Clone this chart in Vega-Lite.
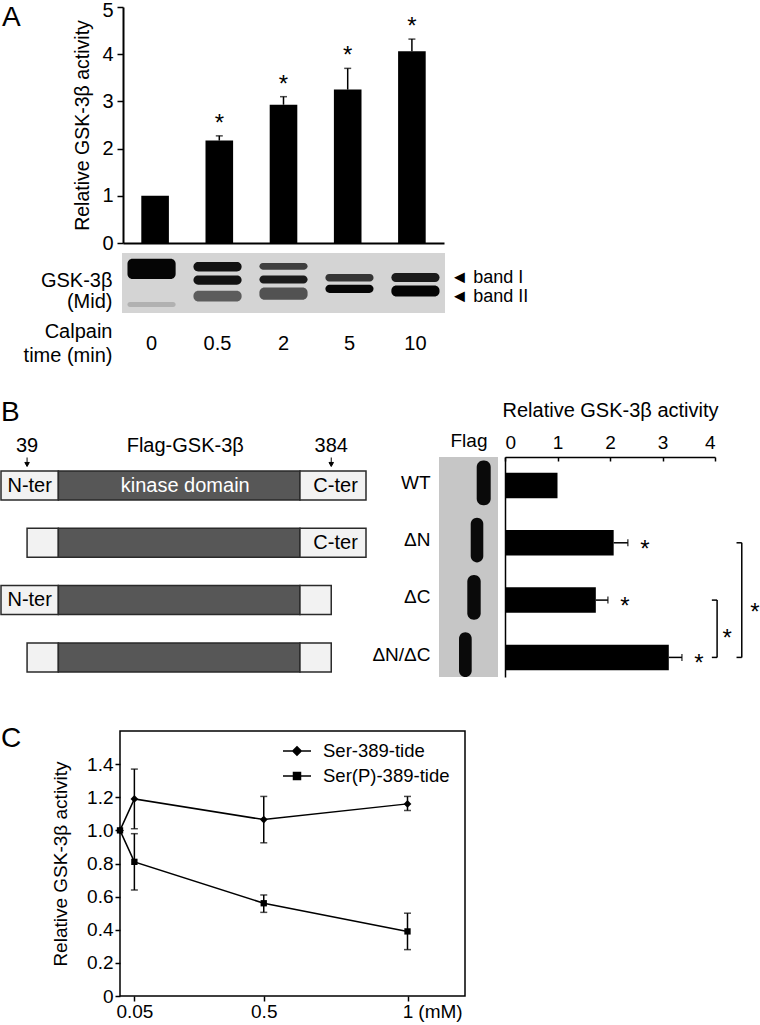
{
 "$schema": "https://vega.github.io/schema/vega-lite/v6.json",
 "background": "white",
 "padding": {"left": 0, "top": 0, "right": 0, "bottom": 0},
 "autosize": {"type": "pad"},
 "spacing": 0,
 "resolve": {"legend": {"shape": "independent"}},
 "config": {
  "font": "Liberation Sans",
  "view": {"stroke": null},
  "text": {"color": "black"},
  "axis": {"labelColor": "black", "titleColor": "black", "domainColor": "black", "tickColor": "black", "grid": false, "labelFontSize": 19, "titleFontSize": 20, "titleFontWeight": "normal", "domainWidth": 1.5, "tickWidth": 1.5, "labelOverlap": false},
  "axisY": {"labelOverlap": false},
  "axisQuantitative": {"labelOverlap": false},
  "title": {"color": "black", "fontWeight": "normal", "fontSize": 28}
 },
 "vconcat": [
  {
   "bounds": "flush", "spacing": 0,
   "hconcat": [
    {"width": 122, "height": 236, "data": {"values": []}, "mark": "point",
     "title": {"text": "A", "anchor": "start", "frame": "group", "baseline": "alphabetic", "offset": 0, "dy": 47, "dx": 1}},
    {"width": 321, "height": 236,
     "data": {"values": [
      {"t": "0", "v": 1.0, "hi": null},
      {"t": "0.5", "v": 2.17, "hi": 2.27},
      {"t": "2", "v": 2.93, "hi": 3.1},
      {"t": "5", "v": 3.25, "hi": 3.7},
      {"t": "10", "v": 4.06, "hi": 4.32}
     ]},
     "encoding": {"x": {"field": "t", "type": "nominal", "sort": null, "scale": {"paddingInner": 0.57, "paddingOuter": 0.285}, "axis": {"labels": false, "ticks": false, "title": null, "domainWidth": 2}}},
     "layer": [
      {"mark": {"type": "bar", "color": "black"},
       "encoding": {"y": {"field": "v", "type": "quantitative", "scale": {"domain": [0, 5], "nice": false},
                          "axis": {"values": [0, 1, 2, 3, 4, 5], "title": "Relative GSK-3β activity", "tickSize": 6, "labelPadding": 4, "titlePadding": 9, "domainWidth": 2, "labelFontSize": 20, "titleFontSize": 19.5,
                                   "labelOffset": {"condition": {"test": "datum.value == 5", "value": 3}, "value": 0}}}}},
      {"transform": [{"filter": "datum.hi != null"}], "mark": {"type": "rule", "color": "black", "strokeWidth": 1.5},
       "encoding": {"y": {"field": "v", "type": "quantitative"}, "y2": {"field": "hi"}}},
      {"transform": [{"filter": "datum.hi != null"}], "mark": {"type": "tick", "color": "black", "size": 7, "thickness": 1.5},
       "encoding": {"y": {"field": "hi", "type": "quantitative"}}},
      {"transform": [{"filter": "datum.hi != null"}], "mark": {"type": "text", "text": "*", "fontSize": 24, "baseline": "alphabetic", "dy": -5},
       "encoding": {"y": {"field": "hi", "type": "quantitative"}}}
     ]}
   ]
  },
  {
   "bounds": "flush", "spacing": 0,
   "hconcat": [
    {"width": 121, "height": 60, "data": {"values": []}, "mark": "point"},
    {"width": 323, "height": 60,
     "view": {"fill": "#d4d4d4", "stroke": null},
     "data": {"values": [
      {"lane": "0", "top": 5.7, "bot": 26, "k": 1.0},
      {"lane": "0", "top": 49, "bot": 54, "k": 0.15},
      {"lane": "0.5", "top": 9, "bot": 18.4, "k": 0.95},
      {"lane": "0.5", "top": 22.4, "bot": 31.7, "k": 0.95},
      {"lane": "0.5", "top": 37.7, "bot": 48.4, "k": 0.55},
      {"lane": "2", "top": 10, "bot": 16.7, "k": 0.7},
      {"lane": "2", "top": 22.4, "bot": 30.4, "k": 0.9},
      {"lane": "2", "top": 34.4, "bot": 46.7, "k": 0.6},
      {"lane": "5", "top": 21, "bot": 28.4, "k": 0.75},
      {"lane": "5", "top": 31.7, "bot": 40, "k": 1.0},
      {"lane": "10", "top": 20, "bot": 29, "k": 0.9},
      {"lane": "10", "top": 32.4, "bot": 43.4, "k": 1.0}
     ]},
     "mark": {"type": "rect", "cornerRadius": 5},
     "encoding": {
      "x": {"field": "lane", "type": "nominal", "sort": ["0", "0.5", "2", "5", "10"], "scale": {"paddingInner": 0.27, "paddingOuter": 0.083},
            "axis": {"orient": "bottom", "labelAngle": 0, "ticks": false, "domain": false, "labelPadding": 20, "labelFontSize": 20,
                     "title": ["Calpain", "time (min)"], "titleAngle": 0, "titleAlign": "right", "titleX": -10, "titleY": 24.5, "titleBaseline": "alphabetic", "titleLineHeight": 23.5, "titleFontSize": 20}},
      "y": {"field": "top", "type": "quantitative", "scale": {"domain": [0, 60], "reverse": true, "nice": false},
            "axis": {"orient": "right", "values": [24.8, 43], "labelExpr": "datum.value < 30 ? '◄ band I' : '◄ band II'", "ticks": false, "domain": false, "labelPadding": 5, "labelFontSize": 18, "labelBaseline": "middle",
                     "title": ["GSK-3β", "(Mid)"], "titleAngle": 0, "titleAlign": "right", "titleBaseline": "alphabetic", "titleX": -333, "titleY": 33, "titleLineHeight": 21, "titleFontSize": 20}},
      "y2": {"field": "bot"},
      "color": {"field": "k", "type": "quantitative", "scale": {"domain": [0, 1], "range": ["#d4d4d4", "#050505"]}, "legend": null}
     }}
   ]
  },
  {"width": 1, "height": 34, "data": {"values": []}, "mark": "point"},
  {
   "bounds": "flush", "spacing": 0,
   "hconcat": [
    {"width": 365, "height": 220,
     "title": {"text": "B", "anchor": "start", "frame": "group", "baseline": "alphabetic", "offset": 0, "dy": 13},
     "layer": [
      {"data": {"values": [
        {"c": "WT", "s": 0, "e": 66, "part": "end"},
        {"c": "WT", "s": 66, "e": 344, "part": "kinase"},
        {"c": "WT", "s": 344, "e": 420, "part": "end"},
        {"c": "ΔN", "s": 30, "e": 66, "part": "end"},
        {"c": "ΔN", "s": 66, "e": 344, "part": "kinase"},
        {"c": "ΔN", "s": 344, "e": 420, "part": "end"},
        {"c": "ΔC", "s": 0, "e": 66, "part": "end"},
        {"c": "ΔC", "s": 66, "e": 344, "part": "kinase"},
        {"c": "ΔC", "s": 344, "e": 380, "part": "end"},
        {"c": "ΔN/ΔC", "s": 30, "e": 66, "part": "end"},
        {"c": "ΔN/ΔC", "s": 66, "e": 344, "part": "kinase"},
        {"c": "ΔN/ΔC", "s": 344, "e": 380, "part": "end"}
       ]},
       "mark": {"type": "rect", "stroke": "#2a2a2a", "strokeWidth": 1.5},
       "encoding": {
        "x": {"field": "s", "type": "quantitative", "scale": {"domain": [0, 420], "nice": false}, "axis": null},
        "x2": {"field": "e"},
        "y": {"field": "c", "type": "nominal", "sort": null, "scale": {"domain": ["WT", "ΔN", "ΔC", "ΔN/ΔC"], "paddingInner": 0.494, "paddingOuter": 0.1667, "align": 0.733}, "axis": null},
        "fill": {"field": "part", "type": "nominal", "scale": {"domain": ["end", "kinase"], "range": ["#f2f2f2", "#575757"]}, "legend": null}
       }},
      {"data": {"values": [
        {"c": "WT", "pos": 33, "label": "N-ter"},
        {"c": "WT", "pos": 385, "label": "C-ter"},
        {"c": "ΔN", "pos": 385, "label": "C-ter"},
        {"c": "ΔC", "pos": 33, "label": "N-ter"}
       ]},
       "mark": {"type": "text", "fontSize": 20, "color": "black"},
       "encoding": {"x": {"field": "pos", "type": "quantitative", "axis": null}, "y": {"field": "c", "type": "nominal", "axis": null}, "text": {"field": "label"}}},
      {"data": {"values": [{"c": "WT", "pos": 212, "label": "kinase domain"}]},
       "mark": {"type": "text", "fontSize": 20, "color": "white"},
       "encoding": {"x": {"field": "pos", "type": "quantitative", "axis": null}, "y": {"field": "c", "type": "nominal", "axis": null}, "text": {"field": "label"}}},
      {"data": {"values": [{"pos": 30, "label": "39"}, {"pos": 212, "label": "Flag-GSK-3β"}, {"pos": 380, "label": "384"}]},
       "mark": {"type": "text", "fontSize": 20, "baseline": "alphabetic", "dy": -33.5},
       "encoding": {"x": {"field": "pos", "type": "quantitative", "axis": null}, "y": {"datum": "WT", "type": "nominal", "axis": null}, "text": {"field": "label"}}},
      {"data": {"values": [{"pos": 30}, {"pos": 380}]},
       "mark": {"type": "point", "shape": "M0,-1L0,0.25M-0.5,0.1L0.5,0.1L0,1Z", "size": 81, "fill": "black", "stroke": "black", "strokeWidth": 1, "opacity": 1, "yOffset": -23.5},
       "encoding": {"x": {"field": "pos", "type": "quantitative", "axis": null}, "y": {"datum": "WT", "type": "nominal", "axis": null}}}
     ]},
    {"width": 73, "height": 220, "data": {"values": []}, "mark": "point"},
    {"width": 59, "height": 220,
     "view": {"fill": "#c6c6c6", "stroke": null},
     "data": {"values": [
      {"c": "WT", "m1": 37.7, "m2": 51.7},
      {"c": "ΔN", "m1": 31.7, "m2": 44.3},
      {"c": "ΔC", "m1": 28.3, "m2": 41.7},
      {"c": "ΔN/ΔC", "m1": 20, "m2": 32.7}
     ]},
     "mark": {"type": "rect", "color": "#0a0a0a", "cornerRadius": 6.5},
     "encoding": {
      "y": {"field": "c", "type": "nominal", "sort": null, "scale": {"domain": ["WT", "ΔN", "ΔC", "ΔN/ΔC"], "paddingInner": 0.22, "paddingOuter": 0.03, "align": 1},
            "axis": {"ticks": false, "domain": false, "labelPadding": 9, "labelFontSize": 19, "title": null}},
      "x": {"field": "m1", "type": "quantitative", "scale": {"domain": [0, 59], "nice": false},
            "axis": {"orient": "top", "labels": false, "ticks": false, "domain": false, "title": "Flag", "titlePadding": 7, "titleFontSize": 19}},
      "x2": {"field": "m2"}
     }},
    {"width": 7, "height": 220, "data": {"values": []}, "mark": "point"},
    {"width": 210, "height": 220,
     "data": {"values": [
      {"c": "WT", "v": 1.0, "hi": null},
      {"c": "ΔN", "v": 2.07, "hi": 2.34},
      {"c": "ΔC", "v": 1.73, "hi": 1.96},
      {"c": "ΔN/ΔC", "v": 3.12, "hi": 3.37}
     ]},
     "encoding": {"y": {"field": "c", "type": "nominal", "sort": null, "scale": {"domain": ["WT", "ΔN", "ΔC", "ΔN/ΔC"], "paddingInner": 0.555, "paddingOuter": 0.197, "align": 0.697},
                        "axis": {"labels": false, "ticks": false, "title": null, "domainWidth": 1.5}}},
     "layer": [
      {"mark": {"type": "bar", "color": "black"},
       "encoding": {"x": {"field": "v", "type": "quantitative", "scale": {"domain": [0, 4], "nice": false},
                          "axis": {"orient": "top", "values": [0, 1, 2, 3, 4], "format": "d", "tickSize": -4, "labelPadding": 9, "title": "Relative GSK-3β activity", "titlePadding": 13, "labelFontSize": 19, "titleFontSize": 20, "domainWidth": 1.5}}}},
      {"transform": [{"filter": "datum.hi != null"}], "mark": {"type": "rule", "color": "black", "strokeWidth": 1.5},
       "encoding": {"x": {"field": "v", "type": "quantitative"}, "x2": {"field": "hi"}}},
      {"transform": [{"filter": "datum.hi != null"}], "mark": {"type": "tick", "orient": "vertical", "color": "black", "size": 7, "thickness": 1.5},
       "encoding": {"x": {"field": "hi", "type": "quantitative"}}},
      {"transform": [{"filter": "datum.hi != null"}], "mark": {"type": "text", "text": "*", "fontSize": 24, "baseline": "alphabetic", "dx": 17, "dy": 14},
       "encoding": {"x": {"field": "hi", "type": "quantitative"}}},
      {"data": {"values": [{"bx": 4.04, "from": "ΔC", "to": "ΔN/ΔC"}, {"bx": 4.51, "from": "ΔN", "to": "ΔN/ΔC"}]},
       "mark": {"type": "rule", "color": "black", "strokeWidth": 1.5},
       "encoding": {"x": {"field": "bx", "type": "quantitative"}, "y": {"field": "from", "type": "nominal"}, "y2": {"field": "to"}}},
      {"data": {"values": [
        {"b0": 3.94, "bx": 4.04, "at": "ΔC"}, {"b0": 3.94, "bx": 4.04, "at": "ΔN/ΔC"},
        {"b0": 4.41, "bx": 4.51, "at": "ΔN"}, {"b0": 4.41, "bx": 4.51, "at": "ΔN/ΔC"}
       ]},
       "mark": {"type": "rule", "color": "black", "strokeWidth": 1.5},
       "encoding": {"x": {"field": "b0", "type": "quantitative"}, "x2": {"field": "bx"}, "y": {"field": "at", "type": "nominal"}}},
      {"data": {"values": [{"sx": 4.23}]},
       "mark": {"type": "text", "text": "*", "fontSize": 24, "baseline": "alphabetic", "dy": -11},
       "encoding": {"x": {"field": "sx", "type": "quantitative"}, "y": {"datum": "ΔN/ΔC", "type": "nominal"}}},
      {"data": {"values": [{"sx": 4.76}]},
       "mark": {"type": "text", "text": "*", "fontSize": 24, "baseline": "alphabetic", "dy": 20},
       "encoding": {"x": {"field": "sx", "type": "quantitative"}, "y": {"datum": "ΔC", "type": "nominal"}}}
     ]}
   ]
  },
  {"width": 1, "height": 48, "data": {"values": []}, "mark": "point"},
  {
   "bounds": "flush", "spacing": 0,
   "resolve": {"legend": {"shape": "independent"}},
   "hconcat": [
    {"width": 119, "height": 265, "data": {"values": []}, "mark": "point",
     "title": {"text": "C", "anchor": "start", "frame": "group", "baseline": "alphabetic", "offset": 0, "dy": 44}},
    {"width": 345, "height": 265,
     "view": {"stroke": "black", "strokeWidth": 1.5},
     "data": {"values": [
      {"s": "Ser-389-tide", "x": 0, "v": 1.0, "lo": null, "hi": null},
      {"s": "Ser-389-tide", "x": 0.05, "v": 1.19, "lo": 1.01, "hi": 1.37},
      {"s": "Ser-389-tide", "x": 0.5, "v": 1.065, "lo": 0.925, "hi": 1.205},
      {"s": "Ser-389-tide", "x": 1, "v": 1.16, "lo": 1.12, "hi": 1.205},
      {"s": "Ser(P)-389-tide", "x": 0, "v": 1.0, "lo": null, "hi": null},
      {"s": "Ser(P)-389-tide", "x": 0.05, "v": 0.81, "lo": 0.64, "hi": 0.98},
      {"s": "Ser(P)-389-tide", "x": 0.5, "v": 0.56, "lo": 0.505, "hi": 0.61},
      {"s": "Ser(P)-389-tide", "x": 1, "v": 0.39, "lo": 0.28, "hi": 0.5}
     ]},
     "encoding": {
      "x": {"field": "x", "type": "quantitative", "scale": {"domain": [0, 1.2], "nice": false},
            "axis": {"values": [0.05, 0.5, 1], "labelExpr": "datum.value == 1 ? '1' : datum.value == 0.5 ? '0.5' : '0.05'", "domain": false, "tickSize": 5, "labelPadding": 1, "labelFontSize": 19, "labelOverlap": false,
                     "title": "(mM)", "titleX": 320, "titleY": 6, "titleBaseline": "top", "titleFontSize": 19}},
      "y": {"field": "v", "type": "quantitative", "scale": {"domain": [0, 1.6], "nice": false},
            "axis": {"values": [0, 0.2, 0.4, 0.6, 0.8, 1, 1.2, 1.4], "format": ".1f", "labelExpr": "datum.value == 0 ? '0' : datum.label", "domain": false, "tickSize": 5, "labelPadding": 2, "labelFontSize": 19, "labelOverlap": false,
                     "title": "Relative GSK-3β activity", "titlePadding": 16, "titleFontSize": 19}}
     },
     "layer": [
      {"mark": {"type": "line", "color": "black", "strokeWidth": 1.5},
       "encoding": {"detail": {"field": "s"}}},
      {"transform": [{"filter": "datum.hi != null"}], "mark": {"type": "rule", "color": "black", "strokeWidth": 1.5},
       "encoding": {"y": {"field": "lo", "type": "quantitative", "scale": {"domain": [0, 1.6], "nice": false},
            "axis": {"values": [0, 0.2, 0.4, 0.6, 0.8, 1, 1.2, 1.4], "format": ".1f", "labelExpr": "datum.value == 0 ? '0' : datum.label", "domain": false, "tickSize": 5, "labelPadding": 2, "labelFontSize": 19, "labelOverlap": false,
                     "title": "Relative GSK-3β activity", "titlePadding": 16, "titleFontSize": 19}}, "y2": {"field": "hi"}}},
      {"transform": [{"filter": "datum.hi != null"}], "mark": {"type": "tick", "orient": "horizontal", "color": "black", "size": 7, "thickness": 1.5},
       "encoding": {"y": {"field": "lo", "type": "quantitative", "scale": {"domain": [0, 1.6], "nice": false},
            "axis": {"values": [0, 0.2, 0.4, 0.6, 0.8, 1, 1.2, 1.4], "format": ".1f", "labelExpr": "datum.value == 0 ? '0' : datum.label", "domain": false, "tickSize": 5, "labelPadding": 2, "labelFontSize": 19, "labelOverlap": false,
                     "title": "Relative GSK-3β activity", "titlePadding": 16, "titleFontSize": 19}}}},
      {"transform": [{"filter": "datum.hi != null"}], "mark": {"type": "tick", "orient": "horizontal", "color": "black", "size": 7, "thickness": 1.5},
       "encoding": {"y": {"field": "hi", "type": "quantitative", "scale": {"domain": [0, 1.6], "nice": false},
            "axis": {"values": [0, 0.2, 0.4, 0.6, 0.8, 1, 1.2, 1.4], "format": ".1f", "labelExpr": "datum.value == 0 ? '0' : datum.label", "domain": false, "tickSize": 5, "labelPadding": 2, "labelFontSize": 19, "labelOverlap": false,
                     "title": "Relative GSK-3β activity", "titlePadding": 16, "titleFontSize": 19}}}},
      {"transform": [{"filter": "datum.s == 'Ser-389-tide'"}], "mark": {"type": "point", "shape": "diamond", "filled": true, "color": "black", "size": 60, "opacity": 1}},
      {"transform": [{"filter": "datum.s == 'Ser(P)-389-tide'"}], "mark": {"type": "point", "shape": "square", "filled": true, "color": "black", "size": 40, "opacity": 1}},
      {"mark": {"type": "point", "fill": "black", "stroke": "black", "strokeWidth": 1.5, "opacity": 0},
       "encoding": {"shape": {"field": "s", "type": "nominal",
                              "scale": {"domain": ["Ser-389-tide", "Ser(P)-389-tide"], "range": ["M-1,0L1,0M0,-0.3L0.3,0L0,0.3L-0.3,0Z", "M-1,0L1,0M-0.25,-0.25L0.25,-0.25L0.25,0.25L-0.25,0.25Z"]},
                              "legend": {"orient": "none", "legendX": 162, "legendY": 5, "title": null, "padding": 0, "symbolSize": 784, "symbolStrokeWidth": 1.5, "symbolOpacity": 1, "labelFontSize": 18.5, "labelOffset": 11, "rowPadding": -2, "labelColor": "black"}}}}
     ]}
   ]
  }
 ]
}
